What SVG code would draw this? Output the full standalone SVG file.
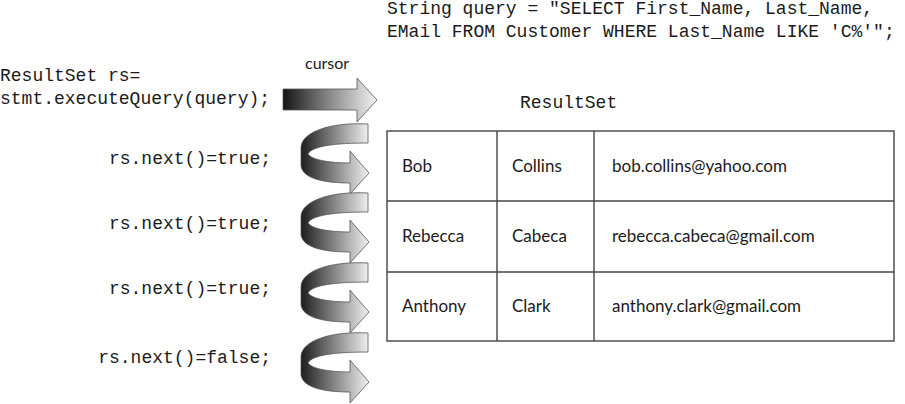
<svg xmlns="http://www.w3.org/2000/svg" width="905" height="404" viewBox="0 0 905 404">
<style>
.mono{font-family:"Liberation Mono","Courier New",monospace;font-size:18px;fill:#1a1a1a}
.sans{font-family:"Lato","Open Sans",sans-serif;font-size:17px;fill:#1a1a1a}
.cell{fill:none;stroke:#444;stroke-width:1.4}
.arr{stroke:#555;stroke-width:0.8;stroke-linejoin:round}
</style>
<defs>
<linearGradient id="gS" gradientUnits="userSpaceOnUse" x1="283" y1="0" x2="377" y2="0">
<stop offset="0" stop-color="#141414"/><stop offset="0.5" stop-color="#8a8a8a"/><stop offset="1" stop-color="#f2f2f2"/>
</linearGradient>
<linearGradient id="gT" gradientUnits="userSpaceOnUse" x1="300" y1="0" x2="370" y2="0">
<stop offset="0" stop-color="#1a1a1a"/><stop offset="0.45" stop-color="#7d7d7d"/><stop offset="1" stop-color="#f4f4f4"/>
</linearGradient>
<path id="turn" d="M368,0 C330,-2 301,8 301,24 L301,42 C303,55 325,59 350,59 L350,70 L369,49 L350,27 L350,39 C330,39 312,36 308,30 C312,22 335,19 368,19 Z"/>
</defs>
<g id="query">
<text class="mono" x="387" y="14">String query = "SELECT First_Name, Last_Name,</text>
<text class="mono" x="387" y="37">EMail FROM Customer WHERE Last_Name LIKE 'C%'";</text>
</g>
<g id="exec">
<text class="mono" x="0" y="81">ResultSet rs=</text>
<text class="mono" x="0" y="104">stmt.executeQuery(query);</text>
</g>
<g id="next-labels">
<text class="mono" x="271" y="164" text-anchor="end">rs.next()=true;</text>
<text class="mono" x="271" y="229" text-anchor="end">rs.next()=true;</text>
<text class="mono" x="271" y="294" text-anchor="end">rs.next()=true;</text>
<text class="mono" x="271" y="363" text-anchor="end">rs.next()=false;</text>
</g>
<g id="cursor">
<text x="305" y="69" style="font-family:'Lato','Open Sans',sans-serif;font-size:16px;fill:#1a1a1a">cursor</text>
<path class="arr" fill="url(#gS)" d="M283,89 L357,89 L357,78 L377,100 L357,122 L357,110 L283,110 Z"/>
<use href="#turn" class="arr" fill="url(#gT)" transform="translate(0,124)"/>
<use href="#turn" class="arr" fill="url(#gT)" transform="translate(0,193)"/>
<use href="#turn" class="arr" fill="url(#gT)" transform="translate(0,263)"/>
<use href="#turn" class="arr" fill="url(#gT)" transform="translate(0,333)"/>
</g>
<g id="resultset">
<text class="mono" x="520" y="108">ResultSet</text>
<rect class="cell" x="387" y="131" width="507" height="210"/>
<line class="cell" x1="387" y1="201" x2="894" y2="201"/>
<line class="cell" x1="387" y1="272" x2="894" y2="272"/>
<line class="cell" x1="497" y1="131" x2="497" y2="341"/>
<line class="cell" x1="594" y1="131" x2="594" y2="341"/>
<text class="sans" x="402" y="172">Bob</text>
<text class="sans" x="512" y="172">Collins</text>
<text class="sans" x="612" y="172">bob.collins@yahoo.com</text>
<text class="sans" x="402" y="242">Rebecca</text>
<text class="sans" x="512" y="242">Cabeca</text>
<text class="sans" x="612" y="242">rebecca.cabeca@gmail.com</text>
<text class="sans" x="402" y="312">Anthony</text>
<text class="sans" x="512" y="312">Clark</text>
<text class="sans" x="612" y="312">anthony.clark@gmail.com</text>
</g>
</svg>
